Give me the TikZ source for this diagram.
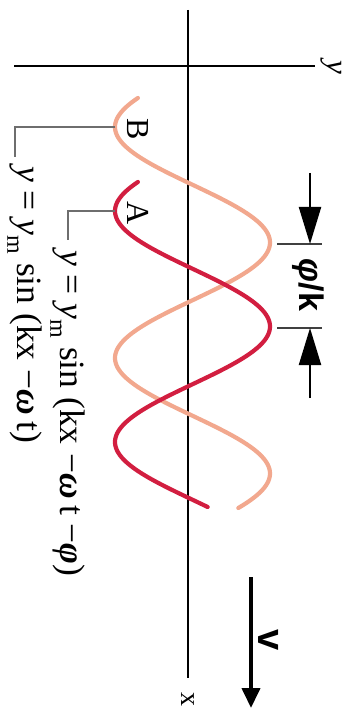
\documentclass[tikz,border=0pt]{standalone}
\usepackage{fontspec}
\setmainfont{Liberation Serif}
\newfontfamily\sansb{Liberation Sans}
\usetikzlibrary{arrows.meta}
\definecolor{waveA}{HTML}{D21E40}
\definecolor{waveB}{HTML}{F2A88E}
\definecolor{lead}{HTML}{6E6E6E}
\newcommand{\subm}{\raisebox{-0.27em}{\fontsize{24}{24}\selectfont m}}
\begin{document}
\begin{tikzpicture}[x=1pt,y=-1pt,
  axis/.style={line width=2pt, black},
  wave/.style={line width=4.2pt, line cap=round},
  leader/.style={line width=2.6pt, lead},
  eq/.style={rotate=-90, anchor=base west, inner sep=0pt, font=\fontsize{35.5}{40}\selectfont},
  lbl/.style={rotate=-90, inner sep=0pt, font=\fontsize{32}{34}\selectfont},
  dimarrow/.style={line width=2.2pt, -{Triangle[length=37pt,width=22pt]}},
  tickline/.style={line width=2.2pt, black!75},
  bigsans/.style={rotate=-90, inner sep=0pt, font=\sansb\bfseries\fontsize{34}{36}\selectfont}]
\useasboundingbox (0,0) rectangle (353,711);
% axes
\coordinate (yL) at (14,66); \coordinate (yR) at (315,66);
\coordinate (xT) at (188,10); \coordinate (xB) at (188,678);
\draw[axis] (yL) -- (yR);
\draw[axis] (xT) -- (xB);
\node[lbl, font=\fontsize{31}{33}\selectfont\itshape] (ylab) at (331,67) {y};
\node[lbl, font=\fontsize{28}{30}\selectfont] (xlab) at (188,699) {x};
% waves
\draw[wave, waveB, domain=98:508, samples=200, variable=\t] plot ({192.5-77.5*cos((\t-127)*1.558442)}, \t);
\draw[wave, waveA, domain=182:507, samples=200, variable=\t] plot ({192.5-77.5*cos((\t-211)*1.558442)}, \t);
% labels and leaders
\coordinate (Bmin) at (115,127); \coordinate (Bk) at (15,127); \coordinate (Be) at (15,157);
\coordinate (Amin) at (115,211); \coordinate (Ak) at (68,211); \coordinate (Ae) at (68,240);
\node[lbl] (B) at (138,129) {B};
\node[lbl] (A) at (138,213) {A};
\draw[leader] (Bmin) -- (Bk) -- (Be);
\draw[leader] (Amin) -- (Ak) -- (Ae);
\node[eq] (eqA) at (60,250) {\textit{y} = \textit{y}\subm{} sin (kx −\textbf{\textit{ω}}\,t −\textbf{\textit{φ}})};
\node[eq] (eqB) at (17,166) {\textit{y} = \textit{y}\subm{} sin (kx −\textbf{\textit{ω}}\,t)};
% phase dimension
\coordinate (t1a) at (277,244); \coordinate (t1b) at (322,244);
\coordinate (t2a) at (277,328); \coordinate (t2b) at (322,328);
\coordinate (aTop) at (310,173); \coordinate (aTopTip) at (310,244);
\coordinate (aBot) at (310,398); \coordinate (aBotTip) at (310,328);
\draw[tickline] (t1a) -- (t1b);
\draw[tickline] (t2a) -- (t2b);
\draw[dimarrow] (aTop) -- (aTopTip);
\draw[dimarrow] (aBot) -- (aBotTip);
\node[bigsans] (phik) at (308,285) {{\itshape φ}/k};
% velocity
\coordinate (vS) at (251,577); \coordinate (vE) at (251,708);
\draw[line width=4pt, -{Triangle[length=20pt,width=18pt]}] (vS) -- (vE);
\node[bigsans, font=\sansb\bfseries\fontsize{38}{40}\selectfont] (v) at (269,640) {v};
\end{tikzpicture}
\end{document}
